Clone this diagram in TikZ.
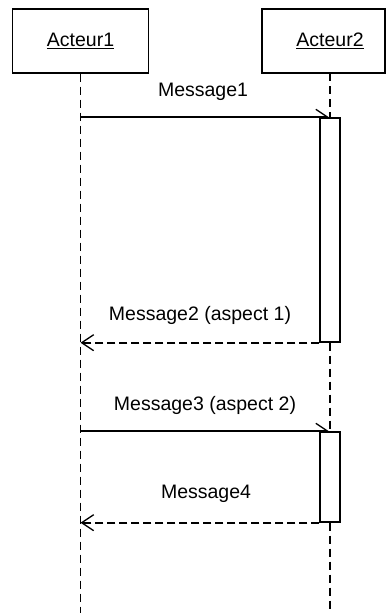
\documentclass[tikz,border=0pt]{standalone}
\usepackage{fontspec}
\setmainfont{Liberation Sans}
\usetikzlibrary{arrows.meta}
\tikzset{
  every node/.style={font=\fontsize{19.5}{23}\selectfont},
  actorbox/.style={draw, line width=1.3pt, minimum height=64pt, inner sep=0pt},
  actbox/.style={draw, fill=white, line width=1.4pt, minimum width=20pt, inner sep=0pt},
  lifeline/.style={line width=1.5pt, dash pattern=on 8pt off 5pt},
  syncmsg/.style={line width=1.7pt, -{Straight Barb[left, length=12pt, width=16pt, line width=1.3pt]}},
  retmsg/.style={line width=1.7pt, dash pattern=on 8pt off 4pt, -{Straight Barb[length=12pt, width=16pt, line width=1.3pt]}},
  msglabel/.style={inner sep=1pt}
}
\begin{document}
\begin{tikzpicture}[x=1pt, y=-1pt]
\useasboundingbox (0,0) rectangle (386,613);
% actors
\node[actorbox, minimum width=136pt] (b1) at (80.5,41) {\underline{Acteur1}};
\node[actorbox, minimum width=123pt] (b2) at (323.5,41) {};
\node (a2) at (330,41) {\underline{Acteur2}};
\coordinate (l2top) at (330,73);
\coordinate (l1end) at (80.5,613);
\coordinate (l2end) at (330,613);
% activation boxes
\node[actbox, minimum height=224pt] (act1) at (330,230) {};
\node[actbox, minimum height=90pt] (act2) at (330,477) {};
% lifelines
\draw[lifeline] (b1.south) -- (l1end);
\draw[lifeline] (l2top) -- (act1.north);
\draw[lifeline] (act1.south) -- (act2.north);
\draw[lifeline] (act2.south) -- (l2end);
% redraw boxes above lifelines
\node[actbox, minimum height=224pt] at (act1) {};
\node[actbox, minimum height=90pt] at (act2) {};
% messages
\draw[syncmsg] (b1.south |- act1.north) -- (act1.north);
\draw[retmsg] (act1.south west) -- (b1.south |- act1.south);
\draw[syncmsg] (b1.south |- act2.north) -- (act2.north);
\draw[retmsg] (act2.south west) -- (b1.south |- act2.south);
% labels
\node[msglabel] (t1) at (203,92) {Message1};
\node[msglabel] (t2) at (200,315) {Message2 (aspect 1)};
\node[msglabel] (t3) at (205,405) {Message3 (aspect 2)};
\node[msglabel] (t4) at (206,494) {Message4};
\end{tikzpicture}
\end{document}
